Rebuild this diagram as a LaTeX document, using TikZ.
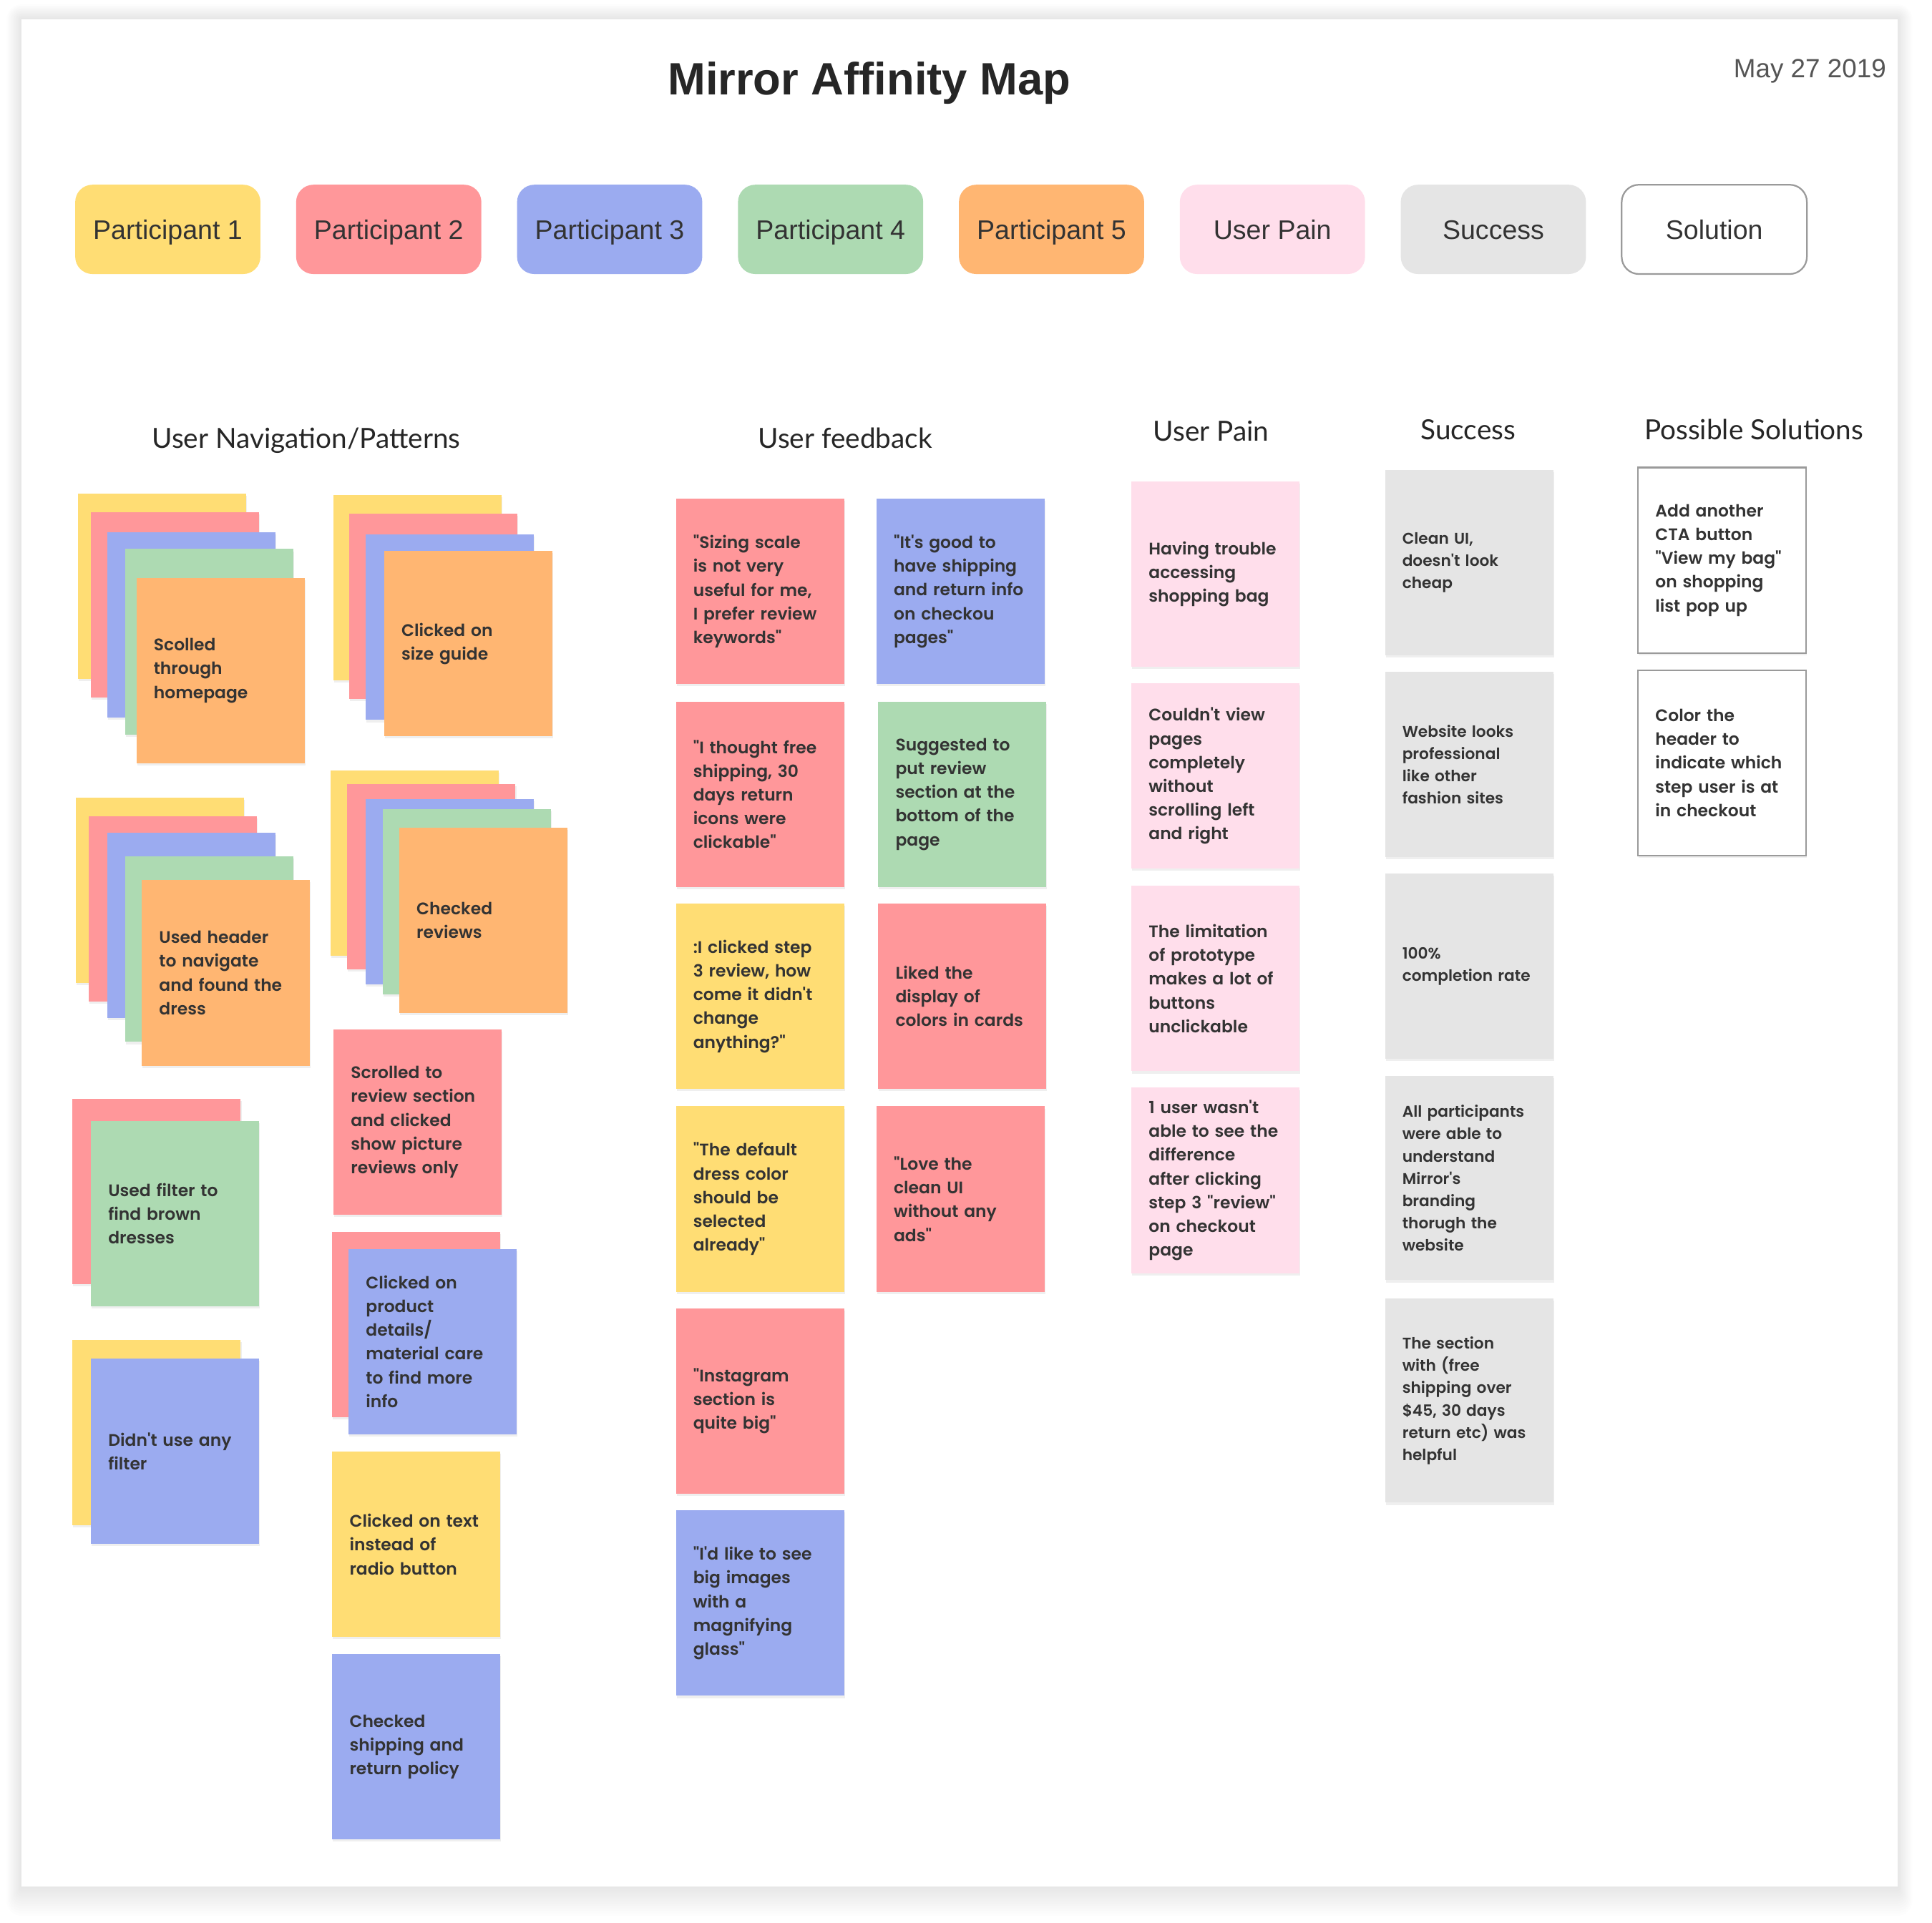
\documentclass[tikz,border=0pt]{standalone}
\usepackage{fontspec}
\setmainfont{Liberation Sans}
\newfontfamily\notefont{Poppins}[UprightFont={* SemiBold},Ligatures=TeXOff]
\newfontfamily\headfont{Lato}
\usetikzlibrary{shadows}

\definecolor{noteyellow}{HTML}{FFDD74}
\definecolor{notered}{HTML}{FF979A}
\definecolor{noteblue}{HTML}{9BABF0}
\definecolor{notegreen}{HTML}{ADDAB2}
\definecolor{noteorange}{HTML}{FFB672}
\definecolor{painpink}{HTML}{FFDEEB}
\definecolor{successgray}{HTML}{E5E5E5}
\definecolor{solgray}{HTML}{9A9A9A}
\definecolor{textdark}{HTML}{333333}
\definecolor{headdark}{HTML}{262626}
\definecolor{dategray}{HTML}{555555}

\tikzset{
  note/.style={fill=#1, anchor=north west, text=textdark, align=left,
    text width=108.5pt, inner xsep=14pt, inner ysep=0pt, minimum height=150.5pt,
    font=\notefont\fontsize{13.6}{19.3}\selectfont,
    drop shadow={shadow xshift=0.6pt, shadow yshift=-1.8pt, opacity=0.12}},
  successnote/.style={note=successgray, font=\notefont\fontsize{12.6}{18.1}\selectfont},
  solnote/.style={note=white, draw=solgray, line width=1.3pt},
  tag/.style={fill=#1, rounded corners=14pt, minimum width=150.3pt, minimum height=72.5pt,
    text height=15.7pt, text depth=0pt, text=textdark, font=\fontsize{21.8}{26}\selectfont},
  heading/.style={anchor=base, inner sep=0pt, text=headdark, font=\headfont\fontsize{22.5}{27}\selectfont},
}

\begin{document}
\begin{tikzpicture}[x=1pt,y=-1pt]
  \useasboundingbox (0,0) rectangle (1568,1561);
  % Board
  \fill[white] (0,0) rectangle (1568,1561);
  \foreach \s in {1,...,12}
    \fill[black, opacity=0.006, rounded corners=\s pt] (17.4-\s,15.5-\s) rectangle (1540+\s,1531.2+2*\s);
  \fill[white] (17.4,15.5) rectangle (1540,1531.2);

  % Title
  \node[anchor=base, inner sep=0pt, text=headdark, font=\bfseries\fontsize{36.8}{44}\selectfont] (title) at (705.5,77) {Mirror Affinity Map};
  \node[anchor=base east, inner sep=0pt, text=dategray, font=\fontsize{21.4}{26}\selectfont] (date) at (1531,63) {May 27 2019};

  % Legend
  \node[tag=noteyellow] (p1) at (136.2,186.2) {Participant 1};
  \node[tag=notered] (p2) at (315.5,186.2) {Participant 2};
  \node[tag=noteblue] (p3) at (494.8,186.2) {Participant 3};
  \node[tag=notegreen] (p4) at (674.1,186.2) {Participant 4};
  \node[tag=noteorange] (p5) at (853.4,186.2) {Participant 5};
  \node[tag=painpink] (painkey) at (1032.7,186.2) {User Pain};
  \node[tag=successgray] (successkey) at (1212,186.2) {Success};
  \node[tag=white, draw=solgray, line width=1.3pt] (solkey) at (1391.3,186.2) {Solution};

  % Headings
  \node[heading] (navhead) at (248.5,364) {User Navigation/Patterns};
  \node[heading] (feedhead) at (686,364) {User feedback};
  \node[heading] (painhead) at (983,358) {User Pain};
  \node[heading] (successhead) at (1191.5,357) {Success};
  \node[heading] (solhead) at (1423.5,357) {Possible Solutions};

  % User Navigation/Patterns
  \node[note=noteyellow] (homeY) at (63.1,400.5) {};
  \node[note=notered] (homeR) at (73.7,415.6) {};
  \node[note=noteblue] (homeB) at (87,431.9) {};
  \node[note=notegreen] (homeG) at (101.2,445.5) {};
  \node[note=noteorange] (home) at (110.6,469) {Scolled\\through\\homepage};

  \node[note=noteyellow] (sizeY) at (270.6,401.7) {};
  \node[note=notered] (sizeR) at (283.1,416.8) {};
  \node[note=noteblue] (sizeB) at (296.7,433.8) {};
  \node[note=noteorange] (size) at (311.7,447) {Clicked on\\size guide};

  \node[note=noteyellow] (headerY) at (61.2,647.3) {};
  \node[note=notered] (headerR) at (72,662.4) {};
  \node[note=noteblue] (headerB) at (87,675.6) {};
  \node[note=notegreen] (headerG) at (101.2,695.1) {};
  \node[note=noteorange] (header) at (115,714.3) {Used header\\to navigate\\and found the\\dress};

  \node[note=noteyellow] (reviewsY) at (268.1,625.2) {};
  \node[note=notered] (reviewsR) at (281.7,636.2) {};
  \node[note=noteblue] (reviewsB) at (296.7,648.5) {};
  \node[note=notegreen] (reviewsG) at (310.3,656.4) {};
  \node[note=noteorange] (reviews) at (323.9,671.5) {Checked\\reviews};

  \node[note=notered] (scrolled) at (270.6,835.5) {Scrolled to\\review section\\and clicked\\show picture\\reviews only};

  \node[note=notered] (filterR) at (58.7,891.9) {};
  \node[note=notegreen] (filter) at (73.7,909.8) {Used filter to\\find brown\\dresses};

  \node[note=notered] (detailsR) at (269.5,999.8) {};
  \node[note=noteblue] (details) at (282.8,1013.6) {Clicked on\\product\\details/\\material care\\to find more\\info};

  \node[note=noteyellow] (nofilterY) at (58.7,1087.4) {};
  \node[note=noteblue] (nofilter) at (73.7,1102.5) {Didn't use any\\filter};

  \node[note=noteyellow] (radio) at (269.5,1178.2) {Clicked on text\\instead of\\radio button};
  \node[note=noteblue] (policy) at (269.5,1342.5) {Checked\\shipping and\\return policy};

  % User feedback
  \node[note=notered] (sizing) at (548.4,404.7) {"Sizing scale\\is not very\\useful for me,\\I prefer review\\keywords"};
  \node[note=notered] (icons) at (548.4,569.3) {"I thought free\\shipping, 30\\days return\\icons were\\clickable"};
  \node[note=noteyellow] (step) at (548.4,733.3) {:I clicked step\\3 review, how\\come it didn't\\change\\anything?"};
  \node[note=noteyellow] (default) at (548.4,897.9) {"The default\\dress color\\should be\\selected\\already"};
  \node[note=notered] (instagram) at (548.4,1061.9) {"Instagram\\section is\\quite big"};
  \node[note=noteblue] (images) at (548.4,1225.9) {"I'd like to see\\big images\\with a\\magnifying\\glass"};

  \node[note=noteblue] (shipping) at (711.2,404.7) {"It's good to\\have shipping\\and return info\\on checkou\\pages"};
  \node[note=notegreen] (bottom) at (712.6,569.3) {Suggested to\\put review\\section at the\\bottom of the\\page};
  \node[note=notered] (colors) at (712.6,733.3) {Liked the\\display of\\colors in cards};
  \node[note=notered] (cleanui) at (711.2,897.9) {"Love the\\clean UI\\without any\\ads"};

  % User Pain
  \node[note=painpink] (bag) at (918.1,390.6) {Having trouble\\accessing\\shopping bag};
  \node[note=painpink] (scroll) at (918.1,554.5) {Couldn't view\\pages\\completely\\without\\scrolling left\\and right};
  \node[note=painpink] (prototype) at (918.1,718.9) {The limitation\\of prototype\\makes a lot of\\buttons\\unclickable};
  \node[note=painpink] (difference) at (918.1,882.8) {1 user wasn't\\able to see the\\difference\\after clicking\\step 3 "review"\\on checkout\\page};

  % Success
  \node[successnote] (clean) at (1123.9,381.2) {Clean UI,\\doesn't look\\cheap};
  \node[successnote] (professional) at (1123.9,545.1) {Website looks\\professional\\like other\\fashion sites};
  \node[successnote] (completion) at (1123.9,709) {100\%\\completion rate};
  \node[successnote, minimum height=165.6pt] (branding) at (1123.9,873.4) {All participants\\were able to\\understand\\Mirror's\\branding\\thorugh the\\website};
  \node[successnote, minimum height=165.6pt] (section) at (1123.9,1054) {The section\\with (free\\shipping over\\\$45, 30 days\\return etc) was\\helpful};

  % Possible Solutions
  \node[solnote] (cta) at (1328.8,378.9) {Add another\\CTA button\\"View my bag"\\on shopping\\list pop up};
  \node[solnote] (colorhead) at (1328.8,543.4) {Color the\\header to\\indicate which\\step user is at\\in checkout};
\end{tikzpicture}
\end{document}
